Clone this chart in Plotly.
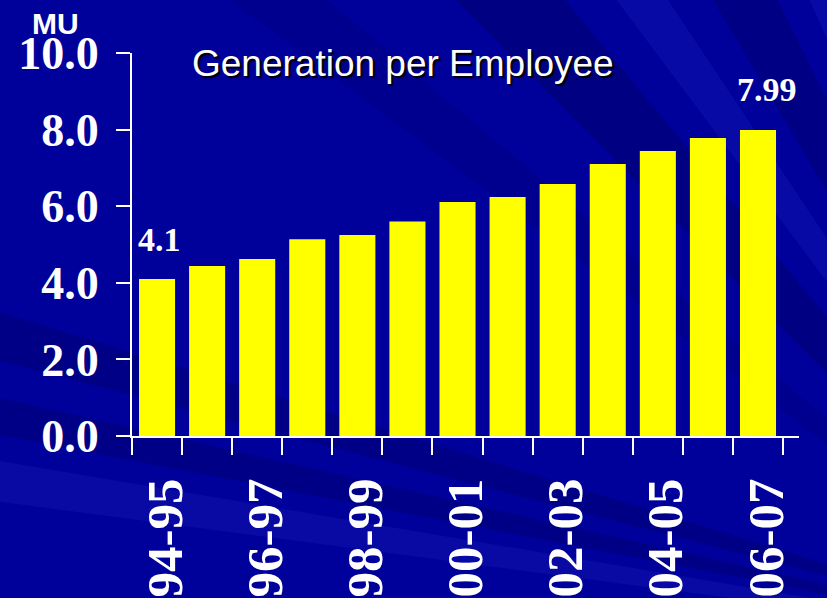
import plotly.graph_objects as go

categories = ["94-95", "95-96", "96-97", "97-98", "98-99", "99-00", "00-01",
              "01-02", "02-03", "03-04", "04-05", "05-06", "06-07"]
values = [4.10, 4.44, 4.62, 5.14, 5.25, 5.60, 6.11, 6.24, 6.58, 7.10, 7.44, 7.78, 7.99]
tick_labels = ["94-95", "", "96-97", "", "98-99", "", "00-01", "", "02-03", "", "04-05", "", "06-07"]
y_ticks = [0, 2, 4, 6, 8, 10]
labelled = {0: "4.1", 12: "7.99"}

fig = go.Figure(go.Bar(
    x=categories, y=values,
    marker=dict(color="#FFFF00", line=dict(width=0)),
    hoverinfo="skip",
))

# background rays (paper coords) radiating from lower right
ox, oy = 1.45, -0.55
rays = [
    ((-0.25, 0.12), (-0.25, 0.02), "rgba(0,0,110,0.45)"),
    ((-0.25, -0.05), (-0.25, -0.16), "rgba(30,40,190,0.25)"),
    ((-0.25, 0.35), (-0.25, 0.22), "rgba(0,0,105,0.40)"),
    ((0.45, 1.2), (0.62, 1.2), "rgba(0,0,105,0.50)"),
    ((0.70, 1.2), (0.78, 1.2), "rgba(20,30,185,0.35)"),
    ((0.85, 1.2), (0.95, 1.2), "rgba(0,0,110,0.50)"),
    ((1.0, 1.2), (1.06, 1.2), "rgba(20,30,185,0.35)"),
    ((0.10, 1.2), (0.25, 1.2), "rgba(0,0,115,0.30)"),
    ((0.35, -0.42), (0.65, -0.42), "rgba(40,40,190,0.20)"),
]
shapes = []
for (ax_, ay_), (bx_, by_), col in rays:
    shapes.append(dict(
        type="path", xref="paper", yref="paper", layer="below",
        path=f"M {ox} {oy} L {ax_} {ay_} L {bx_} {by_} Z",
        fillcolor=col, line=dict(width=0),
    ))

annotations = [
    dict(text="MU", xref="paper", yref="paper", x=-0.1154, y=1.076,
         showarrow=False, xanchor="center", yanchor="middle",
         font=dict(family="Liberation Sans", size=30, color="white", weight="bold")),
    dict(text="Generation per Employee", xref="paper", yref="paper", x=0.407, y=0.972,
         showarrow=False, xanchor="center", yanchor="middle",
         font=dict(family="Liberation Sans", size=37, color="white",
                   shadow="2px 2px 1px black")),
]
shifts = {0: (2, 39), 12: (9, 40)}
for i, txt in labelled.items():
    annotations.append(dict(
        text=txt, x=categories[i], y=values[i], xref="x", yref="y",
        showarrow=False, xanchor="center", yanchor="middle",
        xshift=shifts[i][0], yshift=shifts[i][1],
        font=dict(family="Liberation Serif", size=34, color="white", weight="bold"),
    ))

fig.update_layout(
    width=827, height=598,
    autosize=False,
    margin=dict(l=132, r=28, t=53, b=162, autoexpand=False),
    paper_bgcolor="#00009A",
    plot_bgcolor="rgba(0,0,0,0)",
    bargap=0.28,
    showlegend=False,
    shapes=shapes,
    annotations=annotations,
    xaxis=dict(
        type="category", automargin=False,
        tickmode="array", tickvals=categories, ticktext=tick_labels,
        tickson="boundaries",
        ticks="outside", ticklen=17, tickwidth=2, tickcolor="white",
        showline=True, linecolor="white", linewidth=2,
        showgrid=False, zeroline=False,
        tickangle=-90,
        ticklabelstandoff=20,
        ticklabelshift=8,
        tickfont=dict(family="Liberation Serif", size=51, color="white", weight="bold"),
    ),
    yaxis=dict(
        range=[0, 10], automargin=False,
        tickmode="array", tickvals=y_ticks, tickformat=".1f",
        ticks="outside", ticklen=14, tickwidth=2, tickcolor="white",
        showline=True, linecolor="white", linewidth=2,
        showgrid=False, zeroline=False,
        ticklabelstandoff=8,
        tickfont=dict(family="Liberation Serif", size=46, color="white", weight="bold"),
    ),
)

fig.write_html("out.html", config={"displayModeBar": False},
               post_script="document.body.style.margin='0';document.body.style.overflow='hidden';")
